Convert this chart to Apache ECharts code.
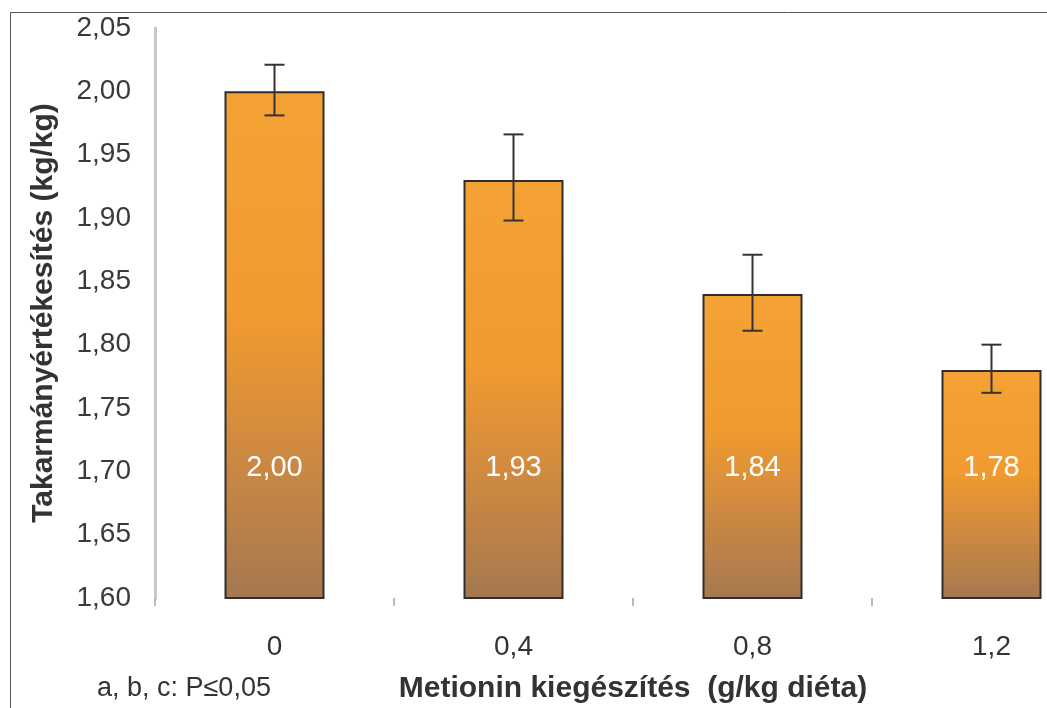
<!DOCTYPE html>
<html>
<head>
<meta charset="utf-8">
<script src="https://cdn.jsdelivr.net/npm/echarts@6/dist/echarts.min.js"></script>
<style>
html,body{margin:0;padding:0;background:#fff;}
#chart{width:1047px;height:708px;}
</style>
</head>
<body>
<div id="chart"></div>
<script>
const categories = ['0', '0,4', '0,8', '1,2'];
const values = [2.00, 1.93, 1.84, 1.78];
const errLow = [1.981, 1.898, 1.811, 1.762];
const errHigh = [2.021, 1.966, 1.871, 1.800];
const yTicks = { min: 1.60, max: 2.05, interval: 0.05 };
const xTitle = 'Metionin kiegészítés  (g/kg diéta)';
const yTitle = 'Takarmányértékesítés (kg/kg)';
const footnote = 'a, b, c: P≤0,05';

const FONT = '"Liberation Sans", Arial, sans-serif';
const fmt = v => v.toFixed(2).replace('.', ',');

const chart = echarts.init(document.getElementById('chart'), null, { renderer: 'canvas' });

const errData = categories.map((c, i) => [i, errLow[i], errHigh[i]]);

chart.setOption({
  animation: false,
  backgroundColor: '#ffffff',
  grid: { left: 155, top: 28, width: 956, height: 570, containLabel: false, outerBoundsMode: 'none' },
  graphic: [
    { type: 'rect', left: 8, top: 10, shape: { width: 1200, height: 900 },
      style: { fill: 'none', stroke: '#555', lineWidth: 1 }, silent: true, z: 0 },
    { type: 'text', left: 97, top: 675,
      style: { text: footnote, font: '27px ' + FONT, fill: '#333' } }
  ],
  xAxis: {
    type: 'category',
    data: categories,
    name: xTitle,
    nameLocation: 'middle',
    nameGap: 76,
    nameTextStyle: { fontFamily: FONT, fontWeight: 'bold', fontSize: 30, color: '#333' },
    axisLine: { show: false },
    axisTick: { show: true, length: 8, lineStyle: { color: '#bbb', width: 2 } },
    axisLabel: { fontFamily: FONT, fontSize: 28, color: '#333', margin: 35 },
    splitLine: { show: false }
  },
  yAxis: {
    type: 'value',
    min: yTicks.min, max: yTicks.max, interval: yTicks.interval,
    name: yTitle,
    nameLocation: 'middle',
    nameGap: 96,
    nameTextStyle: { fontFamily: FONT, fontWeight: 'bold', fontSize: 30, color: '#333' },
    axisLine: { show: true, lineStyle: { color: '#c8c8c8', width: 3 } },
    axisTick: { show: false },
    axisLabel: { fontFamily: FONT, fontSize: 28, color: '#3a3a3a', margin: 24, formatter: v => fmt(v) },
    splitLine: { show: false }
  },
  series: [
    {
      type: 'bar',
      data: values,
      barWidth: 100,
      itemStyle: {
        borderColor: '#2e2e2e', borderWidth: 2,
        color: new echarts.graphic.LinearGradient(0, 0, 0, 1, [
          { offset: 0, color: '#F5A235' },
          { offset: 0.45, color: '#F09A30' },
          { offset: 0.7, color: '#D08A40' },
          { offset: 1, color: '#A57850' }
        ])
      },
      label: {
        show: true, position: 'insideBottom', distance: 117,
        formatter: p => fmt(p.value),
        fontFamily: FONT, fontSize: 29, color: '#fff'
      },
      z: 2
    },
    {
      type: 'custom',
      data: errData,
      z: 5,
      renderItem: function (params, api) {
        const x = api.value(0);
        const lo = api.coord([x, api.value(1)]);
        const hi = api.coord([x, api.value(2)]);
        const hw = 10;
        const st = { stroke: '#333', lineWidth: 2 };
        return {
          type: 'group',
          children: [
            { type: 'line', shape: { x1: lo[0], y1: lo[1], x2: hi[0], y2: hi[1] }, style: st },
            { type: 'line', shape: { x1: hi[0] - hw, y1: hi[1], x2: hi[0] + hw, y2: hi[1] }, style: st },
            { type: 'line', shape: { x1: lo[0] - hw, y1: lo[1], x2: lo[0] + hw, y2: lo[1] }, style: st }
          ]
        };
      }
    }
  ]
});
</script>
</body>
</html>
